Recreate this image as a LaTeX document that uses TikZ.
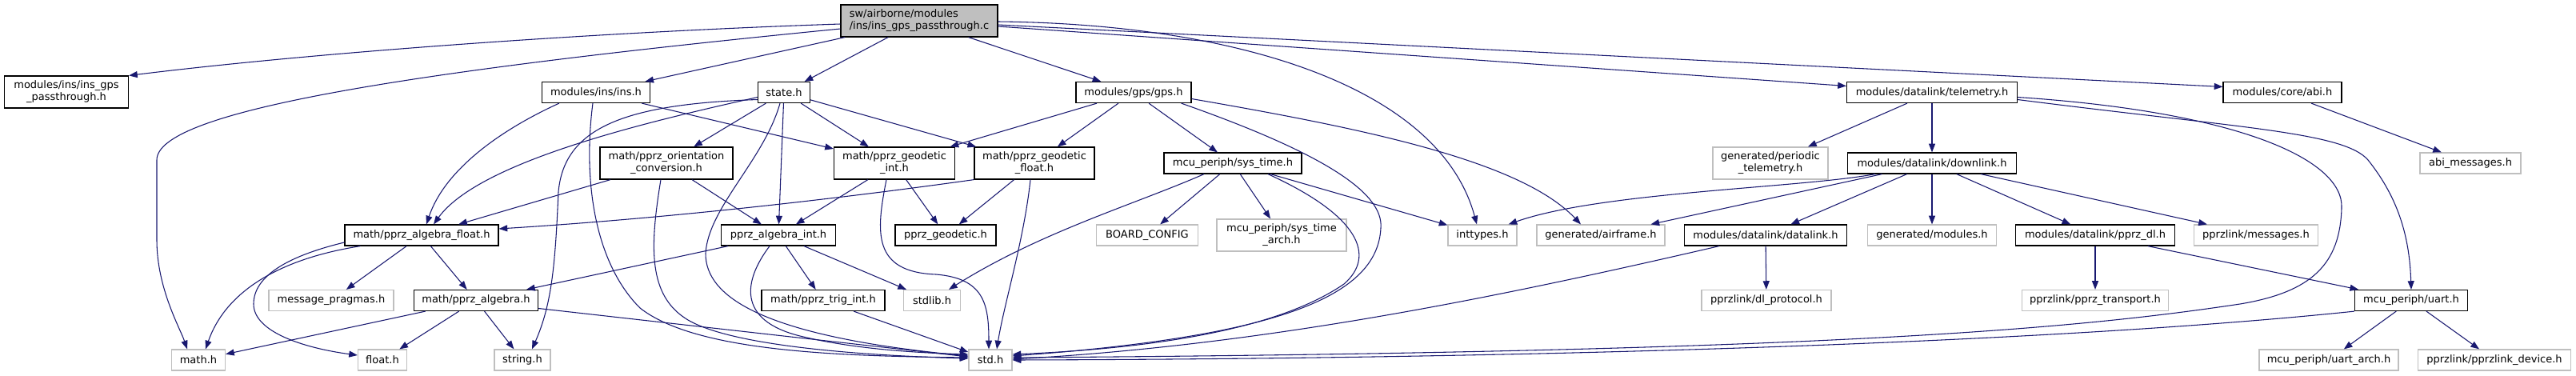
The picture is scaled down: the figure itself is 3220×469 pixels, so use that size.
\documentclass[tikz,border=0pt]{standalone}
\usepackage{fontspec}
\setmainfont{DejaVu Sans}
\usetikzlibrary{arrows.meta,calc}
\definecolor{edgeblue}{HTML}{191970}
\definecolor{extgrey}{HTML}{BFBFBF}
\begin{document}
\begin{tikzpicture}[x=0.75pt,y=-0.75pt]
\tikzset{
 nd/.style={rectangle, inner sep=0pt, font=\fontsize{9.75pt}{11.25pt}\selectfont, line width=0.9pt, minimum height=19.5pt, fill=white},
 doc/.style={nd, draw=black},
 ext/.style={nd, draw=extgrey},
 two/.style={minimum height=30pt, align=center},
 wd/.style={minimum width=#1*0.75pt},
 dep/.style={draw=edgeblue, line width=0.8pt, -{Triangle[length=8pt,width=6pt]}},
}
\useasboundingbox (0,0) rectangle (3220,469);
% row 0
\node[doc, two, align=left, wd=196, fill=extgrey] (main) at (1149,26) {sw/airborne/modules\\/ins/ins\_gps\_passthrough.c};
% row 1
\node[doc, two, wd=155] (ipt) at (83,115) {modules/ins/ins\_gps\\\_passthrough.h};
\node[doc, wd=135] (ins) at (745,115.5) {modules/ins/ins.h};
\node[doc, wd=65] (state) at (980,115.5) {state.h};
\node[doc, wd=144] (gps) at (1417,115.5) {modules/gps/gps.h};
\node[doc, wd=213] (tele) at (2415,115.5) {modules/datalink/telemetry.h};
\node[doc, wd=148] (abi) at (2853,115.5) {modules/core/abi.h};
% row 2
\node[doc, two, wd=166] (orient) at (833,204) {math/pprz\_orientation\\\_conversion.h};
\node[doc, two, wd=151] (geoint) at (1118,204) {math/pprz\_geodetic\\\_int.h};
\node[doc, two, wd=150] (geofloat) at (1293,204) {math/pprz\_geodetic\\\_float.h};
\node[doc, wd=172] (systime) at (1541,204) {mcu\_periph/sys\_time.h};
\node[ext, two, wd=144] (periodic) at (2213,204) {generated/periodic\\\_telemetry.h};
\node[doc, wd=211] (downlink) at (2415,204) {modules/datalink/downlink.h};
\node[ext, wd=126] (abimsg) at (3088,204) {abi\_messages.h};
% row 3
\node[doc, wd=192] (algfloat) at (527,294) {math/pprz\_algebra\_float.h};
\node[doc, wd=143] (algint) at (973,294) {pprz\_algebra\_int.h};
\node[doc, wd=126] (geodetic) at (1182,294) {pprz\_geodetic.h};
\node[ext, wd=127] (board) at (1434,294) {BOARD\_CONFIG};
\node[ext, two, wd=162] (systimearch) at (1602,294) {mcu\_periph/sys\_time\\\_arch.h};
\node[ext, wd=86] (inttypes) at (1853,294) {inttypes.h};
\node[ext, wd=160] (airframe) at (2001,294) {generated/airframe.h};
\node[doc, wd=203] (datalink) at (2207,294) {modules/datalink/datalink.h};
\node[ext, wd=161] (modules) at (2415,294) {generated/modules.h};
\node[doc, wd=199] (pprzdl) at (2619,294) {modules/datalink/pprz\_dl.h};
\node[ext, wd=155] (messages) at (2820,294) {pprzlink/messages.h};
% row 4
\node[ext, wd=156] (msgprag) at (414,375.5) {message\_pragmas.h};
\node[doc, wd=155] (alg) at (595,375.5) {math/pprz\_algebra.h};
\node[doc, wd=154] (trig) at (1029,375.5) {math/pprz\_trig\_int.h};
\node[ext, wd=71] (stdlib) at (1165,375.5) {stdlib.h};
\node[ext, wd=162] (dlproto) at (2208,375.5) {pprzlink/dl\_protocol.h};
\node[ext, wd=183] (transport) at (2619,375.5) {pprzlink/pprz\_transport.h};
\node[doc, wd=141] (uart) at (3014,375.5) {mcu\_periph/uart.h};
% row 5
\node[ext, wd=67] (mathh) at (248,450) {math.h};
\node[ext, wd=61] (floath) at (478,450) {float.h};
\node[ext, wd=70] (stringh) at (653,450) {string.h};
\node[ext, wd=54] (std) at (1238,450) {std.h};
\node[ext, wd=174] (uartarch) at (2911,450) {mcu\_periph/uart\_arch.h};
\node[ext, wd=191] (device) at (3118,450) {pprzlink/pprzlink\_device.h};

% main
\draw[dep] ($(main.west)+(0,4)$) .. controls (750,40) and (400,65) .. (ipt.north east);
\draw[dep] ($(main.west)+(0,10)$) .. controls (500,90) and (196,140) .. (196,200) -- (196,300) .. controls (196,360) and (225,410) .. ($(mathh.north)+(-14,0)$);
\draw[dep] (main) -- (ins);
\draw[dep] (main) -- (state);
\draw[dep] (main) -- (gps);
\draw[dep] ($(main.east)+(0,1)$) .. controls (1550,30) and (1800,110) .. ($(inttypes.north)+(-7,0)$);
\draw[dep] ($(main.east)+(0,7)$) -- ($(tele.west)+(0,-8)$);
\draw[dep] ($(main.east)+(0,5)$) -- ($(abi.west)+(0,-7)$);
% ins
\draw[dep] ($(ins.south west)+(22,0)$) .. controls (620,165) and (555,215) .. ($(algfloat.north)+(6,0)$);
\draw[dep] ($(ins.south)+(-4,0)$) .. controls (728,230) and (745,330) .. (800,385) .. controls (870,440) and (1050,445) .. ($(std.west)+(0,-3)$);
\draw[dep] (ins) -- (geoint);
% state
\draw[dep] (state) -- (orient);
\draw[dep] ($(state.west)+(0,6)$) .. controls (820,150) and (600,200) .. ($(algfloat.north)+(15,0)$);
\draw[dep] ($(state.west)+(0,9)$) .. controls (780,130) and (705,160) .. (698,240) .. controls (694,330) and (690,380) .. ($(stringh.north)+(12,0)$);
\draw[dep] (state) -- (algint);
\draw[dep] ($(state.south)+(-5,0)$) .. controls (955,200) and (885,260) .. (882,317) .. controls (882,370) and (950,420) .. ($(std.west)+(0,-5)$);
\draw[dep] (state) -- (geoint);
\draw[dep] (state) -- (geofloat);
% orientation
\draw[dep] (orient) -- (algfloat);
\draw[dep] ($(orient.south)+(-7,0)$) .. controls (812,310) and (810,370) .. (860,400) .. controls (920,435) and (1100,445) .. ($(std.west)+(0,-2)$);
\draw[dep] (orient) -- (algint);
% geodetic int
\draw[dep] (geoint) -- (algint);
\draw[dep] (geoint) -- (geodetic);
\draw[dep] ($(geoint.south)+(-10,0)$) .. controls (1095,290) and (1090,340) .. (1170,343) .. controls (1230,348) and (1236,380) .. ($(std.north)+(-2,0)$);
% geodetic float
\draw[dep] (geofloat.south west) .. controls (1000,255) and (800,275) .. ($(algfloat.east)+(0,-8)$);
\draw[dep] (geofloat) -- (geodetic);
\draw[dep] ($(geofloat.south)+(-5,0)$) .. controls (1280,300) and (1255,380) .. ($(std.north)+(8,0)$);
% algebra float
\draw[dep] ($(algfloat.south west)+(20,0)$) .. controls (340,325) and (280,370) .. ($(mathh.north)+(9,0)$);
\draw[dep] ($(algfloat.west)+(0,9)$) .. controls (360,320) and (317,345) .. (317,380) .. controls (317,415) and (380,435) .. ($(floath.west)+(0,-6)$);
\draw[dep] (algfloat) -- (msgprag);
\draw[dep] (algfloat) -- (alg);
% algebra int
\draw[dep] (algint) -- (alg);
\draw[dep] (algint) -- (trig);
\draw[dep] (algint) -- (stdlib);
\draw[dep] ($(algint.south)+(-11,0)$) .. controls (930,350) and (920,400) .. (1000,420) .. controls (1070,437) and (1150,441) .. ($(std.west)+(0,-7)$);
% trig
\draw[dep] (trig) -- (std);
% algebra
\draw[dep] (alg) -- (mathh);
\draw[dep] (alg) -- (floath);
\draw[dep] (alg) -- (stringh);
\draw[dep] ($(alg.east)+(0,10)$) -- ($(std.west)+(0,-4)$);
% gps
\draw[dep] (gps) -- (geoint);
\draw[dep] (gps) -- (geofloat);
\draw[dep] (gps) -- (systime);
\draw[dep] ($(gps.south east)+(-13,0)$) .. controls (1650,190) and (1730,240) .. (1726,285) .. controls (1722,370) and (1600,420) .. ($(std.east)+(0,-5)$);
\draw[dep] ($(gps.east)+(0,8)$) .. controls (1700,160) and (1900,200) .. ($(airframe.north)+(-25,0)$);
% sys_time
\draw[dep] ($(systime.south)+(-36,0)$) .. controls (1420,255) and (1300,290) .. ($(stdlib.north)+(21,0)$);
\draw[dep] (systime) -- (board);
\draw[dep] (systime) -- (systimearch);
\draw[dep] (systime) -- (inttypes);
\draw[dep] ($(systime.south)+(44,0)$) .. controls (1700,270) and (1720,320) .. (1680,355) .. controls (1600,410) and (1450,435) .. ($(std.east)+(0,-7)$);
% telemetry
\draw[dep] (tele) -- (periodic);
\draw[dep] (tele) -- (downlink);
\draw[dep] ($(tele.east)+(0,6)$) .. controls (2800,140) and (2930,200) .. (2927,260) .. controls (2925,330) and (2890,365) .. (2800,380) .. controls (2600,410) and (2300,440) .. ($(std.east)+(0,-3)$);
\draw[dep] ($(tele.east)+(0,9)$) .. controls (2800,160) and (2930,165) .. (2960,200) .. controls (3000,250) and (3012,300) .. (uart.north);
% abi
\draw[dep] (abi) -- (abimsg);
% downlink
\draw[dep] ($(downlink.south west)+(35,0)$) .. controls (2250,235) and (2000,240) .. ($(inttypes.north east)+(-11,0)$);
\draw[dep] (downlink) -- (airframe);
\draw[dep] (downlink) -- (datalink);
\draw[dep] (downlink) -- (modules);
\draw[dep] (downlink) -- (pprzdl);
\draw[dep] (downlink) -- (messages);
% datalink
\draw[dep] ($(datalink.south west)+(44,0)$) .. controls (1900,365) and (1600,430) .. ($(std.east)+(0,-1)$);
\draw[dep] (datalink) -- (dlproto);
% pprz_dl
\draw[dep] (pprzdl) -- (transport);
\draw[dep] (pprzdl) -- (uart);
% uart
\draw[dep] (uart.south west) .. controls (2600,425) and (2000,448) .. (std.east);
\draw[dep] (uart) -- (uartarch);
\draw[dep] (uart) -- (device);
\end{tikzpicture}
\end{document}
